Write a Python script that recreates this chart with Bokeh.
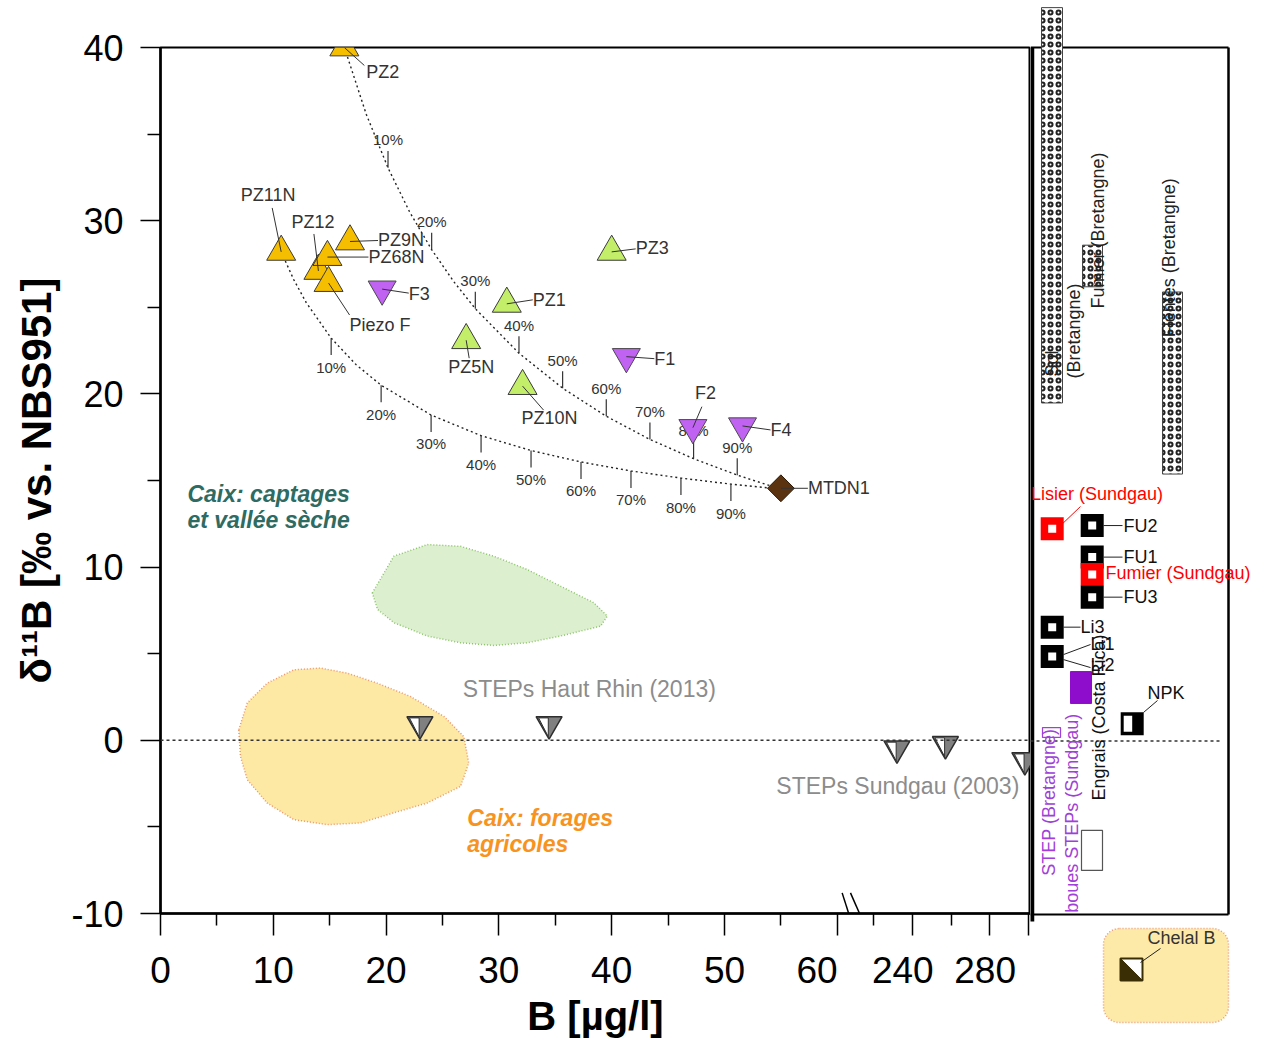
import numpy as np
from bokeh.plotting import figure
from bokeh.models import FixedTicker, LinearAxis, Span, Arrow, Range1d
from bokeh.layouts import row
from bokeh.embed import file_html
from bokeh.resources import INLINE
from bokeh.core.properties import value

FONT = "Liberation Sans"
NARROW = "'Liberation Sans Narrow', 'Liberation Sans', sans-serif"

# ---------------------------------------------------------------- data (main panel)
yellow_names = ["PZ2", "PZ11N", "PZ12", "PZ68N", "PZ9N", "Piezo F"]
yellow_B = [16.3, 10.7, 14.0, 14.8, 16.8, 14.9]
yellow_d = [40.0, 28.2, 27.1, 27.9, 28.8, 26.4]

green_names = ["PZ3", "PZ1", "PZ5N", "PZ10N"]
green_B = [40.0, 30.7, 27.1, 32.1]
green_d = [28.2, 25.2, 23.1, 20.45]

purple_names = ["F3", "F1", "F2", "F4"]
purple_B = [19.65, 41.3, 47.2, 51.6]
purple_d = [26.05, 22.15, 18.05, 18.15]

mtdn_names = ["MTDN1"]
mtdn_B = [55.0]
mtdn_d = [14.55]

steps_hr_B = [23.0, 34.45]
steps_hr_d = [0.93, 0.93]
steps_sg_B = [232.0, 257.0, 298.0]
steps_sg_d = [-0.47, -0.22, -1.15]

# mixing curves
mix_up_B = [16.3, 18.24, 20.17, 22.1, 24.04, 25.98, 27.91, 31.78, 35.65, 39.52, 43.39, 47.26, 51.13, 55.0]
mix_up_d = [40.0, 36.15, 33.05, 30.49, 28.33, 26.50, 24.92, 22.35, 20.33, 18.71, 17.37, 16.26, 15.31, 14.5]
mix_lo_B = [10.7, 11.81, 12.92, 15.13, 17.35, 19.56, 23.99, 28.42, 32.85, 37.28, 41.71, 46.14, 50.57, 55.0]
mix_lo_d = [28.2, 26.60, 25.27, 23.22, 21.68, 20.50, 18.78, 17.59, 16.73, 16.07, 15.55, 15.14, 14.79, 14.5]
pct_labels = ["10%", "20%", "30%", "40%", "50%", "60%", "70%", "80%", "90%"]
mix_up_tick_B = [20.17, 24.04, 27.91, 31.78, 35.65, 39.52, 43.39, 47.26, 51.13]
mix_up_tick_d = [33.05, 28.33, 24.92, 22.35, 20.33, 18.71, 17.37, 16.26, 15.31]
mix_lo_tick_B = [15.13, 19.56, 23.99, 28.42, 32.85, 37.28, 41.71, 46.14, 50.57]
mix_lo_tick_d = [23.22, 20.50, 18.78, 17.59, 16.73, 16.07, 15.55, 15.14, 14.79]

# fields (outlines)
green_zone_B = [18.78, 20.69, 23.65, 26.60, 29.55, 32.51, 35.46, 38.42, 39.61, 39.01, 35.46, 32.51,
                29.55, 26.60, 23.65, 20.69, 19.24]
green_zone_d = [8.51, 10.63, 11.30, 11.20, 10.63, 9.86, 8.90, 7.94, 7.17, 6.59, 6.02, 5.63,
                5.48, 5.63, 6.02, 6.79, 7.56]
orange_zone_B = [6.94, 7.69, 9.46, 11.82, 14.18, 16.55, 19.21, 22.16, 25.12, 26.89, 27.33, 26.60,
                 23.64, 20.68, 17.73, 14.78, 11.82, 9.46, 7.69, 7.09]
orange_zone_d = [0.61, 2.15, 3.30, 4.07, 4.17, 3.88, 3.30, 2.53, 1.38, 0.22, -1.31, -2.66,
                 -3.62, -4.19, -4.77, -4.87, -4.58, -3.62, -2.27, -0.93]

# axes
x_major_B = [0, 10, 20, 30, 40, 50, 60, 240, 280, 300]
x_minor_B = [5, 15, 25, 35, 45, 55, 220, 260]
x_label_text = ["0", "10", "20", "30", "40", "50", "60", "240", "280"]
x_label_B = [0, 10, 20, 30, 40, 50, 58.2, 235, 277.5]
y_major = [-10, 0, 10, 20, 30, 40]
y_minor = [-5, 5, 15, 25, 35]

# ---------------------------------------------------------------- data (right panel)
bret_text = ["Fumier (Bretangne)", "Fientes (Bretangne)"]
bret_lo = [19.5, 26.2, 15.4]          # Sol, Fumier, Fientes (Bretagne)
bret_hi = [42.3, 28.6, 25.9]
black_sq_names = ["FU2", "FU1", "FU3", "Li3", "Li1/Li2"]
black_sq_d = [12.43, 10.61, 8.30, 6.57, 4.88]
red_sq_names = ["Lisier (Sundgau)", "Fumier (Sundgau)"]
red_sq_d = [12.24, 9.61]
box_names = ["boues STEPs (Sundgau)", "STEP (Bretangne)", "Engrais (Costa Rica)"]
box_lo = [2.17, 0.21, -7.46]
box_hi = [4.01, 0.78, -5.15]
npk_d = [1.0]
chelal_d = [-13.17]

# ---------------------------------------------------------------- helpers
BRK_B0, BRK_X0, BRK_K = 220.0, 63.23, 0.1718   # broken axis: 220..300 compressed


def bx(b):
    b = np.asarray(b, dtype=float)
    return np.where(b > 100, BRK_X0 + (b - BRK_B0) * BRK_K, b)


X_END = 77.13
PXX = 870.0 / X_END
PXY = 867.0 / 50.0

# ---------------------------------------------------------------- main figure
p = figure(width=1030, height=1040, x_range=Range1d(0, X_END), y_range=Range1d(-10, 40),
           x_axis_type=None, title=None, output_backend="svg", toolbar_location=None,
           min_border_left=160, min_border_right=0, min_border_top=47, min_border_bottom=126)
try:
    p.frame_align = False
except Exception:
    pass
p.outline_line_color = "black"
p.outline_line_width = 2
p.ygrid.visible = False
p.background_fill_color = "white"
p.border_fill_color = "white"

yax = p.yaxis[0]
yax.ticker = FixedTicker(ticks=y_major, minor_ticks=y_minor)
yax.major_label_overrides = {-10: "-10"}
yax.major_tick_out = 20
yax.major_tick_in = 0
yax.minor_tick_out = 13
yax.minor_tick_in = 0
yax.axis_line_width = 2.5
yax.major_tick_line_width = 1.5
yax.minor_tick_line_width = 1.5
yax.major_label_text_font = FONT
yax.major_label_text_font_size = "36px"
yax.major_label_text_color = "black"
yax.major_label_standoff = 17
yax.axis_label = "δ¹¹B [‰ vs. NBS951]"
yax.axis_label_text_font = FONT
yax.axis_label_text_font_size = "42px"
yax.axis_label_text_font_style = "bold"
yax.axis_label_text_color = "black"
yax.axis_label_standoff = 8

tick_pos = [round(float(v), 4) for v in bx(x_major_B)]
ax_ticks = LinearAxis(ticker=FixedTicker(ticks=tick_pos, minor_ticks=[round(float(v), 4) for v in bx(x_minor_B)]),
                      major_tick_out=22, major_tick_in=0, minor_tick_out=12, minor_tick_in=0,
                      axis_line_width=2.5, major_tick_line_width=1.5, minor_tick_line_width=1.5,
                      major_label_text_font_size="0px", major_label_standoff=0,
                      major_label_overrides={v: "" for v in tick_pos})
p.add_layout(ax_ticks, "below")
lab_pos = [round(float(v), 4) for v in bx(x_label_B)]
ax_labels = LinearAxis(ticker=FixedTicker(ticks=lab_pos, minor_ticks=[]),
                       major_label_overrides={v: t for v, t in zip(lab_pos, x_label_text)},
                       axis_line_color=None, major_tick_line_color=None, minor_tick_line_color=None,
                       major_tick_out=0, major_tick_in=0, minor_tick_out=0, minor_tick_in=0,
                       major_label_standoff=21, major_label_text_font=NARROW,
                       major_label_text_font_size="37px", major_label_text_color="black",
                       axis_label="B [µg/l]", axis_label_text_font=FONT, axis_label_text_font_size="40px",
                       axis_label_text_font_style="bold", axis_label_text_color="black",
                       axis_label_standoff=8)
p.add_layout(ax_labels, "below")

# break marks on the x axis
for xs, xe in [(60.43, 61.61), (61.17, 62.79)]:
    p.add_layout(Arrow(end=None, x_start=xs, y_start=-8.81, x_end=xe, y_end=-11.21,
                       line_color="black", line_width=1.5))

# fields
p.patch(green_zone_B, green_zone_d, fill_color="#DCEFCE", line_color="#8CC46A",
        line_dash="1 2", line_width=1.5)
p.patch(orange_zone_B, orange_zone_d, fill_color="#FDE8A4", line_color="#F0956A",
        line_dash="1 2", line_width=1.5)

p.add_layout(Span(location=0, dimension="width", line_color="#333333", line_dash="3 3", line_width=1.5))

# mixing curves and their % ticks
for B, d in [(mix_up_B, mix_up_d), (mix_lo_B, mix_lo_d)]:
    p.line(B, d, line_color="#222222", line_dash="2 3", line_width=1.4)
up_d = np.array(mix_up_tick_d)
lo_d = np.array(mix_lo_tick_d)
p.segment(x0=mix_up_tick_B, y0=up_d, x1=mix_up_tick_B, y1=up_d + 17 / PXY, line_color="#333333", line_width=1.2)
p.segment(x0=mix_lo_tick_B, y0=lo_d, x1=mix_lo_tick_B, y1=lo_d - 17 / PXY, line_color="#333333", line_width=1.2)
p.text(x=mix_up_tick_B, y=up_d + 28 / PXY, text=pct_labels, text_align="center", text_baseline="middle",
       text_font=value(FONT), text_font_size="15px", text_color="#333333")
p.text(x=mix_lo_tick_B, y=lo_d - 29 / PXY, text=pct_labels, text_align="center", text_baseline="middle",
       text_font=value(FONT), text_font_size="15px", text_color="#333333")

# samples
p.scatter(yellow_B, yellow_d, marker="triangle", size=29, fill_color="#F6BE00",
          line_color="#3a3a3a", line_width=1)
p.scatter(green_B, green_d, marker="triangle", size=29, fill_color="#C3EE6A",
          line_color="#3a3a3a", line_width=1)
p.scatter(purple_B, purple_d, marker="inverted_triangle", size=28, fill_color="#C062F2",
          line_color="#4a4a4a", line_width=1)
p.scatter(mtdn_B, mtdn_d, marker="square", angle=np.pi / 4, size=19, fill_color="#5C3311",
          line_color="#2b1a08", line_width=1)

# STEP samples: grey inverted triangles with a white left half
steps_x = np.concatenate([bx(steps_hr_B), bx(steps_sg_B)])
steps_y = np.array(steps_hr_d + steps_sg_d)
p.scatter(steps_x, steps_y, marker="inverted_triangle", size=26, fill_color="#808080",
          line_color="#2e2e2e", line_width=1.5)
half = [(-10.5, -6.3), (-0.8, -6.3), (-0.8, 12.5)]   # screen-px outline of the white half
p.patches([[float(x) + dx / PXX for dx, _ in half] for x in steps_x],
          [[float(y) - dy / PXY for _, dy in half] for y in steps_y],
          fill_color="white", line_color="#2e2e2e", line_width=1)

# sample labels with leader lines (offsets in screen px: dx right, dy down)
label_layout = {
    "PZ2": ("left", 22, 25, 20, 18),
    "PZ11N": ("center", -13, -57, -9, -44),
    "PZ12": ("center", -5.5, -49, -4.5, -37),
    "PZ68N": ("left", 41, 0, 41, 0),
    "PZ9N": ("left", 28, -1, 28, -1),
    "Piezo F": ("center", 51.5, 42, 21, 32),
    "PZ3": ("left", 24, -3.5, 24, -3),
    "PZ1": ("left", 26, -4, 26, -4),
    "PZ5N": ("center", 5, 27, 3, 18),
    "PZ10N": ("center", 27, 32, 21, 24),
    "F3": ("left", 26.6, 4.5, 26.6, 4),
    "F1": ("left", 28, 2, 28, 2),
    "F2": ("center", 12.5, -34.5, 9, -21),
    "F4": ("left", 28, 4, 28, 4),
    "MTDN1": ("left", 27, 0, 27, 0),
}
pts = {}
for names, B, d in [(yellow_names, yellow_B, yellow_d), (green_names, green_B, green_d),
                     (purple_names, purple_B, purple_d), (mtdn_names, mtdn_B, mtdn_d)]:
    for n, b, dd in zip(names, B, d):
        pts[n] = (float(b), float(dd))

seg = dict(x0=[], y0=[], x1=[], y1=[])
txt = {"left": dict(x=[], y=[], text=[]), "center": dict(x=[], y=[], text=[])}
for n, (al, tdx, tdy, ldx, ldy) in label_layout.items():
    x0, y0 = pts[n]
    seg["x0"].append(x0)
    seg["y0"].append(y0)
    seg["x1"].append(x0 + ldx / PXX)
    seg["y1"].append(y0 - ldy / PXY)
    txt[al]["x"].append(x0 + tdx / PXX)
    txt[al]["y"].append(y0 - tdy / PXY)
    txt[al]["text"].append(n)
p.segment(**seg, line_color="#333333", line_width=1)
for al, t in txt.items():
    p.text(x=t["x"], y=t["y"], text=t["text"], text_align=al, text_baseline="middle",
           text_font=value(FONT), text_font_size="18px", text_color="#333333")

# field names and series notes
p.text(x=[2.39, 2.39], y=[14.22, 12.72], text=["Caix: captages", "et vallée sèche"],
       text_align="left", text_baseline="middle", text_font=value(FONT), text_font_size="23px",
       text_font_style="bold italic", text_color="#2E6B62")
p.text(x=[27.2, 27.2], y=[-4.46, -6.0], text=["Caix: forages", "agricoles"],
       text_align="left", text_baseline="middle", text_font=value(FONT), text_font_size="23px",
       text_font_style="bold italic", text_color="#F7931E")
p.text(x=[26.8], y=[2.98], text=["STEPs Haut Rhin (2013)"], text_align="left", text_baseline="middle",
       text_font=value(FONT), text_font_size="23px", text_color="#8C8C8C")
p.text(x=[54.6], y=[-2.63], text=["STEPs Sundgau (2003)"], text_align="left", text_baseline="middle",
       text_font=value(FONT), text_font_size="23px", text_color="#8C8C8C")

# ---------------------------------------------------------------- right panel
Y_TOP, Y_BOT = 42.71, -16.69
q = figure(width=236, height=1030, x_range=Range1d(0, 236), y_range=Range1d(Y_BOT, Y_TOP),
           x_axis_type=None, y_axis_type=None, title=None, output_backend="svg",
           toolbar_location=None, min_border=0, outline_line_color=None)
try:
    q.frame_align = False
except Exception:
    pass
q.min_border_left = 0
q.min_border_right = 0
q.min_border_top = 0
q.min_border_bottom = 0
q.background_fill_color = "white"
q.border_fill_color = "white"

PANEL_R = 198
q.segment(x0=[0, 0], y0=[40, -10], x1=[PANEL_R, PANEL_R], y1=[40, -10], line_color="black", line_width=2)
q.segment(x0=[PANEL_R], y0=[-10], x1=[PANEL_R], y1=[40], line_color="black", line_width=2.5)
q.segment(x0=[1.5], y0=[-10.4], x1=[1.5], y1=[40], line_color="black", line_width=4.5)
q.segment(x0=[0], y0=[0], x1=[192], y1=[0], line_color="#333333", line_dash="3 3", line_width=1.5)

# hatched ranges (Bretagne)
bar_cols = [(11, 32), (52, 72), (132, 152)]
q.quad(left=[c[0] for c in bar_cols], right=[c[1] for c in bar_cols], bottom=bret_lo, top=bret_hi,
       fill_color="white", line_color="#444444", line_width=1,
       hatch_pattern="ring", hatch_color="#222222", hatch_scale=8, hatch_weight=2)
rot = dict(angle=np.pi / 2, text_align="left", text_baseline="middle", text_font=value(FONT),
           text_font_size="18px")
q.text(x=[21, 43], y=[21.03, 20.91], text=["Sol", "(Bretangne)"], text_color="#222222", **rot)
q.text(x=[67, 138], y=[24.95, 23.29], text=bret_text, text_color="#222222", **rot)

# ranges (boxes)
box_cols = [(40, 61), (12, 30), (51, 72)]
q.quad(left=[box_cols[0][0]], right=[box_cols[0][1]], bottom=[box_lo[0]], top=[box_hi[0]],
       fill_color="#8E0CCB", line_color="#8E0CCB")
q.quad(left=[box_cols[1][0]], right=[box_cols[1][1]], bottom=[box_lo[1]], top=[box_hi[1]],
       fill_color=None, line_color="#A040D8", line_width=1.2)
q.quad(left=[box_cols[2][0]], right=[box_cols[2][1]], bottom=[box_lo[2]], top=[box_hi[2]],
       fill_color="white", line_color="#555555", line_width=1.2)
q.text(x=[18.3, 41.7], y=[-7.76, -9.9], text=[box_names[1], box_names[0]], text_color="#A040D8", **rot)
q.text(x=[68.3], y=[-3.43], text=[box_names[2]], text_color="#111111", **rot)

# square samples
blk_x = [61.7, 61.7, 61.7, 21.7, 21.7]
red_x = [21.7, 61.7]
sq = dict(marker="square", size=23, line_color=None)
q.scatter([red_x[0]], [red_sq_d[0]], fill_color="#FF0000", **sq)
q.scatter(blk_x[:2], black_sq_d[:2], fill_color="black", **sq)
q.scatter([red_x[1]], [red_sq_d[1]], fill_color="#FF0000", **sq)
q.scatter(blk_x[2:], black_sq_d[2:], fill_color="black", **sq)
q.scatter(blk_x + red_x, black_sq_d + red_sq_d, marker="square", size=8, fill_color="white", line_color=None)

# NPK (half white / half black)
npk_x = 101.7
q.scatter([npk_x], npk_d, marker="square", size=23, fill_color="black", line_color=None)
q.quad(left=[npk_x - 8.5], right=[npk_x], bottom=[npk_d[0] - 8 / PXY], top=[npk_d[0] + 8 / PXY],
       fill_color="white", line_color=None)

# Chelal B field and symbol
ch_x = 101.0
try:
    q.quad(left=[73], right=[PANEL_R], bottom=[-16.23], top=[-10.81], fill_color="#FDEAA8",
           line_color="#E99A7A", line_dash="1 2", line_width=1.5, border_radius=16)
except Exception:
    q.quad(left=[73], right=[PANEL_R], bottom=[-16.23], top=[-10.81], fill_color="#FDEAA8",
           line_color="#E99A7A", line_dash="1 2", line_width=1.5)
h = 11 / PXY
q.scatter([ch_x], chelal_d, marker="square", size=22, fill_color="white", line_color="#3A2E05", line_width=2)
q.patch([ch_x - 11, ch_x - 11, ch_x + 11], [chelal_d[0] - h, chelal_d[0] + h, chelal_d[0] - h],
        fill_color="#3A2E05", line_color="#3A2E05")

# leaders and labels in right panel
q.segment(x0=[31, 73, 73, 73, 33, 33, 33, 113, 110],
          y0=[12.48, black_sq_d[0], black_sq_d[1], black_sq_d[2], black_sq_d[3], 4.99, 4.70, 1.65, -12.77],
          x1=[50, 92, 92, 92, 50, 60, 60, 127, 130],
          y1=[13.53, black_sq_d[0], black_sq_d[1], black_sq_d[2], black_sq_d[3], 5.57, 4.24, 2.34, -11.96],
          line_color=["#FF0000"] + ["#222222"] * 8, line_width=1)
lab = dict(text_align="left", text_baseline="middle", text_font=value(FONT), text_font_size="18px")
q.text(x=[0.5, 75], y=[14.25, 9.67], text=red_sq_names, text_color="#FF0000", **lab)
q.text(x=[93, 93, 93, 50, 60, 60], y=black_sq_d[:4] + [5.61, 4.36],
       text=["FU2", "FU1", "FU3", "Li3", "Li1", "Li2"], text_color="#111111", **lab)
q.text(x=[117], y=[2.8], text=["NPK"], text_color="#111111", **lab)
q.text(x=[117], y=[-11.38], text=["Chelal B"], text_color="#333333", **lab)

layout = row(p, q)
open("out.html", "w").write(file_html(layout, INLINE))
